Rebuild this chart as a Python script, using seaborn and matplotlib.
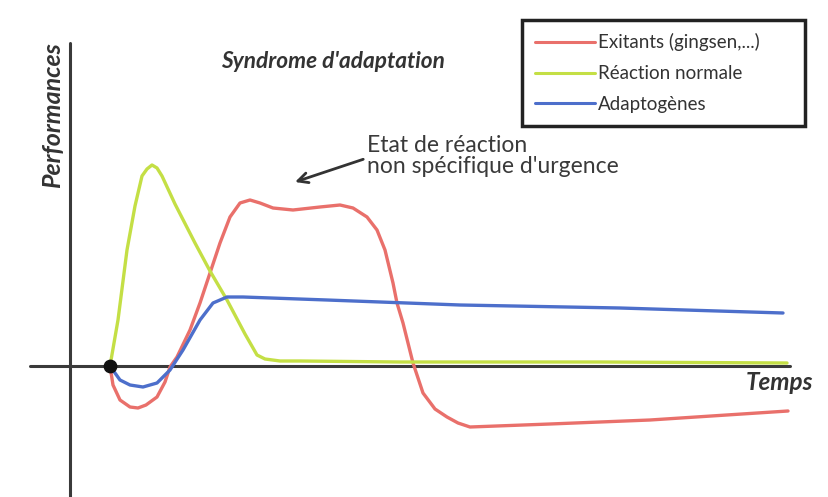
import numpy as np
import pandas as pd
import matplotlib
matplotlib.use("Agg")
import matplotlib.pyplot as plt
import seaborn as sns

# Temps (x) and performance (y, 0 = axe horizontal)
exitants_t = [110, 113, 120, 130, 138, 146, 157, 165, 170, 177, 190, 200, 210, 220, 230, 240,
              250, 260, 273, 293, 320, 340, 353, 367, 377, 385, 393, 397, 403, 413, 423, 435,
              447, 458, 470, 550, 650, 788]
exitants_p = [0, -19, -34, -41, -42, -39, -31, -16, -1, 9, 36, 63, 93, 123, 149, 163,
              166, 163, 158, 156, 159, 161, 158, 149, 136, 116, 83, 63, 43, 3, -27, -43,
              -51, -57, -61, -58, -54, -45]

normale_t = [110, 118, 127, 135, 142, 147, 152, 157, 162, 175, 195, 210, 227, 245, 257, 265,
             280, 300, 400, 600, 787]
normale_p = [0, 46, 116, 160, 190, 197, 201, 198, 190, 162, 123, 95, 66, 32, 11, 7,
             5, 5, 4, 4, 3]

adapto_t = [110, 120, 130, 143, 157, 170, 183, 200, 213, 227, 243, 327, 460, 620, 783]
adapto_p = [0, -14, -19, -21, -17, -4, 16, 46, 63, 69, 69, 66, 61, 58, 53]

labels = ["Exitants (gingsen,...)", "Réaction normale", "Adaptogènes"]
colors = ["#e9706b", "#c4df45", "#4d6fcb"]

df = pd.concat([
    pd.DataFrame({"t": exitants_t, "p": exitants_p, "serie": labels[0]}),
    pd.DataFrame({"t": normale_t, "p": normale_p, "serie": labels[1]}),
    pd.DataFrame({"t": adapto_t, "p": adapto_p, "serie": labels[2]}),
])

sns.set_style("white")
plt.rcParams["font.family"] = ["Lato", "DejaVu Sans"]

fig = plt.figure(figsize=(8.29, 4.97), dpi=100)
ax = fig.add_axes([0, 0, 1, 1])
ax.set_xlim(0, 829)
ax.set_ylim(-131, 366)
ax.axis("off")

axis_col = "#3a3a3a"
# axes du schéma
ax.plot([30, 790], [0, 0], color=axis_col, lw=2.2, zorder=1)
ax.plot([70, 70], [-131, 323], color=axis_col, lw=2.2, zorder=1)

sns.lineplot(data=df, x="t", y="p", hue="serie", palette=colors, sort=False,
             estimator=None, lw=2.4, ax=ax, zorder=3)
ax.scatter([110], [0], s=80, color="#111111", zorder=5)

leg = ax.legend(loc="upper left", bbox_to_anchor=(522 / 829, 1 - 20 / 497, 283 / 829, 0),
                mode="expand", fontsize=13.5, handlelength=3.2, handletextpad=0.15,
                labelspacing=0.74, borderpad=0.7, fancybox=False, framealpha=1,
                borderaxespad=0)
leg.get_frame().set_edgecolor("#222222")
leg.get_frame().set_linewidth(2.5)
for txt in leg.get_texts():
    txt.set_color("#333333")
for h in leg.get_lines():
    h.set_linewidth(2.2)

ax.text(333, 304, "Syndrome d'adaptation", fontsize=16.3, fontweight="bold", style="italic",
        color="#333333", ha="center", va="center")
ax.text(53, 251, "Performances", fontsize=18, fontweight="bold", style="italic",
        color="#333333", ha="center", va="center", rotation=90)
ax.text(779, -16, "Temps", fontsize=17.5, fontweight="bold", style="italic",
        color="#333333", ha="center", va="center")

ax.annotate("Etat de réaction\nnon spécifique d'urgence", xy=(295, 184), xytext=(367, 210),
            fontsize=16.5, color="#3a3a3a", ha="left", va="center", linespacing=0.95,
            arrowprops=dict(arrowstyle="->", color="#333333", lw=2,
                            shrinkA=0, shrinkB=0, mutation_scale=18,
                            relpos=(-0.015, 0.42)))

fig.savefig("out.png", dpi=100)
